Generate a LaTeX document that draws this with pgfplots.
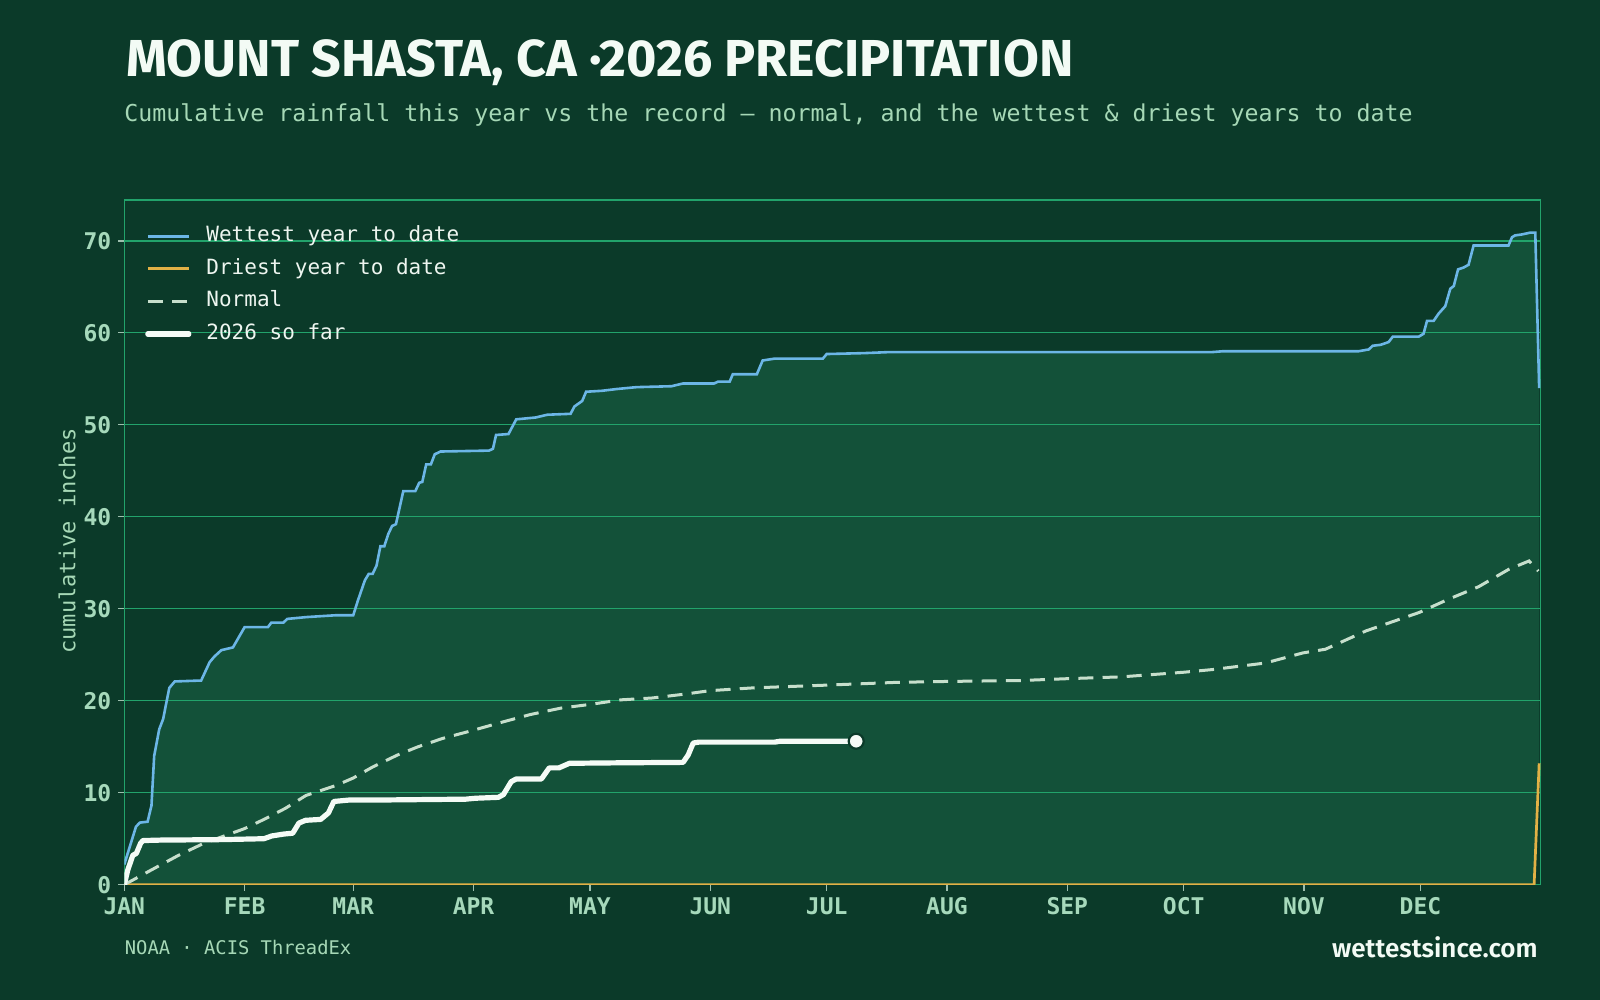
\documentclass[border=0pt]{standalone}
\usepackage{fontspec}
\usepackage{xcolor}
\usepackage{pgfplots}
\pgfplotsset{compat=1.18}
\usepgfplotslibrary{fillbetween}
\newfontfamily\monofont{DejaVu Sans Mono}
\newfontfamily\monobold{DejaVu Sans Mono Bold}
\newfontfamily\titlefont{Fira Sans Bold}
\newfontfamily\brandfont{Fira Sans SemiBold}
\definecolor{bg}{HTML}{0B3A29}
\definecolor{fillc}{HTML}{135139}
\definecolor{gridc}{HTML}{22A36B}
\definecolor{wetc}{HTML}{6CB6E6}
\definecolor{dryc}{HTML}{E2B146}
\definecolor{normc}{HTML}{C7DFCC}
\definecolor{curc}{HTML}{F5FBF6}
\definecolor{tickc}{HTML}{A6D9BB}
\definecolor{tickm}{HTML}{9DBFAE}
\definecolor{subc}{HTML}{A6D8B6}
\definecolor{legc}{HTML}{EEF6F0}
\definecolor{titlec}{HTML}{F3FBF5}
\pagecolor{bg}
\begin{document}
\begin{tikzpicture}
\node[anchor=base west, inner sep=0pt, text=titlec, font=\titlefont\fontsize{26}{30}\selectfont] at (63pt,461.75pt) {MOUNT SHASTA, CA ·2026 PRECIPITATION};
\node[anchor=base west, inner sep=0pt, text=subc, font=\monofont\fontsize{11.63}{14}\selectfont] at (62pt,439.1pt) {Cumulative rainfall this year vs the record — normal, and the wettest \& driest years to date};
\begin{axis}[
  at={(62.15pt,57.65pt)}, anchor=south west,
  width=708.2pt, height=342.35pt, scale only axis,
  xmin=0, xmax=365, ymin=0, ymax=74.45,
  axis line style={gridc, line width=0.6pt},
  ymajorgrids, grid style={gridc, line width=0.6pt},
  xtick={0,31,59,90,120,151,181,212,243,273,304,334},
  xticklabels={JAN,FEB,MAR,APR,MAY,JUN,JUL,AUG,SEP,OCT,NOV,DEC},
  ytick={0,10,20,30,40,50,60,70},
  yticklabels={0,10,20,30,40,50,60,70},
  xtick pos=bottom, ytick pos=left, tick align=outside,
  major tick length=3pt,
  tick style={tickm, line width=0.6pt},
  xticklabel style={font=\monobold\fontsize{11.5}{13}\selectfont, text=tickc, anchor=base, yshift=-11.9pt},
  yticklabel style={font=\monobold\fontsize{11.5}{13}\selectfont, text=tickc, anchor=east, xshift=0pt},
  legend image code/.code={\draw[#1] (0pt,0pt) -- (20.5pt,0pt);},
  legend style={draw=none, fill=none, at={(axis description cs:0.0145,0.963)}, anchor=north west,
    font=\monofont\fontsize{10.5}{12}\selectfont, text=legc, inner sep=0pt,
    row sep=5.8pt, column sep=7.5pt,
    nodes={inner sep=0pt, text height=8pt, text depth=2.5pt}},
  legend cell align=left,
]
\addplot[wetc, line width=1.3pt, name path=wet] coordinates {
(0,2.2)(3,6.3)(4,6.75)(6,6.85)(7,8.6)(7.7,14)(9,16.9)(10,18)(11.6,21.4)(13,22.1)
(19.8,22.2)(22,24.2)(23.2,24.8)(25,25.5)(28,25.8)(31,28.0)(37,28.0)(37.9,28.5)(41,28.5)(42,28.9)
(47,29.1)(54.6,29.3)(59,29.3)(60.2,30.9)(62,33.1)(63,33.8)(64,33.8)(65,34.7)(66,36.8)(67,36.8)
(68,38.1)(69,39.0)(70,39.2)(71.9,42.8)(75,42.8)(76,43.7)(76.8,43.8)(77.8,45.7)(79,45.7)(80,46.8)
(81.5,47.1)(94,47.2)(95,47.4)(95.8,48.9)(99,49.0)(101,50.6)(106,50.8)(109,51.1)(115,51.2)(116,52.0)
(118,52.6)(119,53.6)(123,53.7)(127,53.9)(132,54.1)(141,54.2)(144,54.5)(152,54.5)(153,54.7)(156,54.7)
(156.8,55.5)(163,55.5)(164.5,57.0)(167.6,57.2)(180,57.2)(181,57.7)(190.7,57.8)(196.5,57.9)(280,57.9)(283,58.0)
(318,58.0)(320.7,58.2)(321.7,58.6)(323.7,58.7)(325.8,59.0)(326.9,59.6)(333.6,59.6)(334.8,59.9)(335.7,61.3)(337.4,61.3)
(338.7,62.1)(340.4,62.9)(341.7,64.8)(342.6,65.1)(343.7,66.9)(345.1,67.1)(346.4,67.4)(347.7,69.5)(356.7,69.5)(357.6,70.4)
(358.4,70.6)(360.1,70.7)(362.3,70.9)(363.6,70.9)(364.6,54.0)
};
\addlegendentry{Wettest year to date}
\addplot[dryc, line width=1.35pt, name path=dry] coordinates {(0,0)(363.3,0)(364.6,13.2)};
\addlegendentry{Driest year to date}
\addplot[fillc, forget plot] fill between[of=wet and dry, on layer=axis background];
\addplot[normc, line width=1.5pt, dash pattern=on 7.5pt off 4.6pt] coordinates {
(0,0)(7.4,1.7)(14,3.2)(20.5,4.5)(31,6.1)(36,7.1)(41.5,8.3)(46.8,9.7)(54.6,10.8)(59,11.6)
(64,12.8)(70.4,14.1)(75.7,15.0)(82,15.9)(90,16.8)(96.7,17.6)(104.6,18.5)(112.5,19.2)(120,19.6)(128,20.1)
(136,20.3)(144,20.7)(151,21.1)(162,21.4)(181,21.7)(199,22.0)(212,22.1)(231,22.2)(243,22.4)(257,22.6)
(273,23.1)(280.6,23.4)(294,24.1)(303.7,25.2)(309.5,25.6)(320,27.6)(333.7,29.6)(341,31.0)(349,32.4)(356.8,34.3)
(362,35.2)(364.4,34.1)
};
\addlegendentry{Normal}
\addplot[curc, line width=2.6pt, line cap=round, line join=round] coordinates {
(0,0)(0.9,1.6)(2.2,3.2)(3.1,3.4)(4.2,4.5)(4.8,4.8)(9.4,4.85)(25,4.9)(36,5.0)(38,5.3)
(41,5.5)(43.4,5.6)(45,6.7)(46.7,7.0)(50.6,7.1)(52.6,7.8)(54,9.05)(57.8,9.2)(64,9.2)(88,9.3)
(90.5,9.4)(96.4,9.5)(97.7,9.8)(99.7,11.2)(101,11.5)(107.5,11.5)(109.5,12.7)(112,12.7)(114.7,13.2)(127,13.25)
(144,13.3)(145.3,14.1)(146.6,15.4)(148,15.5)(167.6,15.5)(169,15.6)(188.6,15.6)
};
\addlegendentry{2026 so far}
\addplot[only marks, mark=*, mark size=3.75pt, mark options={fill=curc, draw=bg, line width=1.1pt}, forget plot] coordinates {(188.6,15.6)};
\end{axis}
\node[rotate=90, inner sep=0pt, text=subc, font=\monofont\fontsize{11}{13}\selectfont] at (33.5pt,229.5pt) {cumulative inches};
\node[anchor=base west, inner sep=0pt, text=subc, font=\monofont\fontsize{9.4}{11}\selectfont] at (62.25pt,22.6pt) {NOAA · ACIS ThreadEx};
\node[anchor=base east, inner sep=0pt, text=titlec, font=\brandfont\fontsize{13}{15}\selectfont] at (769pt,21pt) {wettestsince.com};
\pgfresetboundingbox
\path[use as bounding box] (0,0) rectangle (800pt,500pt);
\end{tikzpicture}
\end{document}
